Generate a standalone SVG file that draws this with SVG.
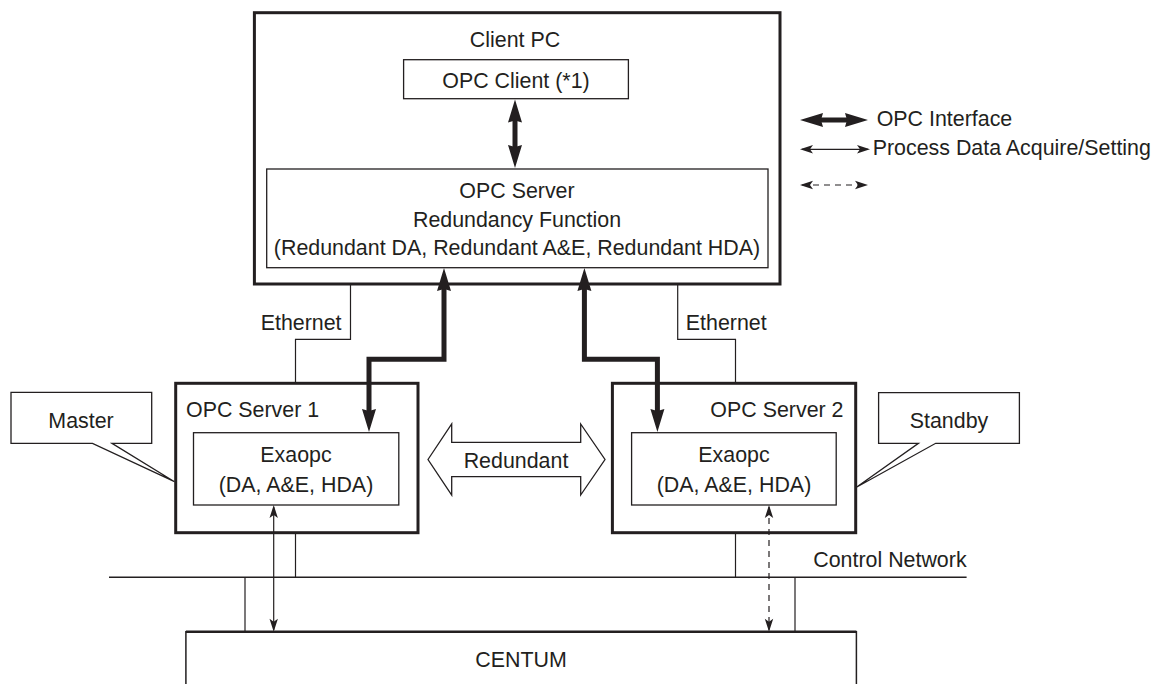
<svg xmlns="http://www.w3.org/2000/svg" width="1158" height="684" viewBox="0 0 1158 684">
<style>
text{font-family:"Liberation Sans",Arial,sans-serif;font-size:21.4px;fill:#231f20}
.m{text-anchor:middle}
.e{text-anchor:end}
.outer{fill:#fff;stroke:#231f20;stroke-width:3}
.inner{fill:#fff;stroke:#231f20;stroke-width:1.3}
.thin{fill:none;stroke:#231f20;stroke-width:1.2}
.thick{fill:none;stroke:#231f20;stroke-width:5;marker-start:url(#hk);marker-end:url(#hk)}
.arr{fill:none;stroke:#231f20;stroke-width:1.2;marker-start:url(#hs);marker-end:url(#hs)}
.dash{stroke-dasharray:6 5}
</style>
<defs>
<marker id="hk" markerUnits="userSpaceOnUse" viewBox="-14 -8 25 16" markerWidth="25" markerHeight="16" refX="0" refY="0" orient="auto-start-reverse">
<path d="M10,0 L-13,-7 L-11,0 L-13,7 Z" fill="#231f20"/>
</marker>
<marker id="hs" markerUnits="userSpaceOnUse" viewBox="-12 -5 15 10" markerWidth="15" markerHeight="10" refX="0" refY="0" orient="auto-start-reverse">
<path d="M2,0 L-11,-4.2 L-8,0 L-11,4.2 Z" fill="#231f20"/>
</marker>
</defs>

<g id="client-pc">
<rect class="outer" x="254.4" y="12.7" width="525.6" height="271.3"/>
<text class="m" x="515" y="46.7">Client PC</text>
</g>
<g id="opc-client">
<rect class="inner" x="403.6" y="59.7" width="224.8" height="39"/>
<text class="m" x="516" y="87.5">OPC Client (*1)</text>
</g>
<g id="opc-server-redundancy">
<rect class="inner" x="266.7" y="169" width="501.3" height="98.7"/>
<text class="m" x="517" y="198">OPC Server</text>
<text class="m" x="517" y="226.5">Redundancy Function</text>
<text class="m" x="517" y="254.5">(Redundant DA, Redundant A&amp;E, Redundant HDA)</text>
</g>

<g id="opc-server-1">
<rect class="outer" x="175.7" y="383.3" width="242.3" height="149.4"/>
<text x="186" y="416.7">OPC Server 1</text>
</g>
<g id="exaopc-1">
<rect class="inner" x="193.5" y="432.7" width="205.3" height="72.3"/>
<text class="m" x="296" y="461.7">Exaopc</text>
<text class="m" x="296" y="491.7">(DA, A&amp;E, HDA)</text>
</g>
<g id="opc-server-2">
<rect class="outer" x="612.4" y="383.3" width="243.3" height="149.4"/>
<text class="e" x="843.5" y="416.7">OPC Server 2</text>
</g>
<g id="exaopc-2">
<rect class="inner" x="631.6" y="432.7" width="204.6" height="72.3"/>
<text class="m" x="734" y="461.7">Exaopc</text>
<text class="m" x="734" y="491.7">(DA, A&amp;E, HDA)</text>
</g>

<g id="master">
<path class="inner" d="M11,392.3 H151.7 V443.3 H112 L174.5,481.7 L92.5,443.3 H11 Z"/>
<text class="m" x="81" y="428.3">Master</text>
</g>
<g id="standby">
<path class="inner" d="M878.6,392.7 H1019.4 V443.3 H935.7 L856.4,487.3 L918.4,443.3 H878.6 Z"/>
<text class="m" x="949" y="428.3">Standby</text>
</g>

<g id="redundant">
<path class="inner" d="M428,459.5 L451.7,424 V442.3 H580.7 V424 L605,459.5 L580.7,495 V476.7 H451.7 V495 Z"/>
<text class="m" x="516" y="468.3">Redundant</text>
</g>

<g id="centum">
<path d="M185.9,700 V631.7 H856.4 V700" fill="#fff" stroke="#231f20" stroke-width="1.5"/>
<line x1="185.9" y1="631.7" x2="856.4" y2="631.7" stroke="#231f20" stroke-width="2.5"/>
<text class="m" x="521" y="666.7">CENTUM</text>
</g>

<g id="connectors">
<path class="thin" d="M350.5,284 V339.3 H295.5 V383.3"/>
<path class="thin" d="M677.7,284 V339.3 H735.5 V383.3"/>
<path class="thin" d="M295.5,532.7 V577.3"/>
<path class="thin" d="M735.5,532.7 V577.3"/>
<path class="thin" d="M245,577.3 V631.7"/>
<path class="thin" d="M795,577.3 V631.7"/>
<path d="M109,577.3 H966.6" fill="none" stroke="#231f20" stroke-width="1.5"/>
<path class="thick" d="M515,109.5 V158"/>
<path class="thick" d="M444,278 V359.3 H369 V422"/>
<path class="thick" d="M584.4,278 V359.3 H657.4 V422"/>
<path class="arr" d="M273.7,507 V629.7"/>
<path class="arr dash" d="M769,507 V629.7"/>
</g>
<g id="labels">
<text x="260.7" y="330">Ethernet</text>
<text x="685.8" y="330">Ethernet</text>
<text class="e" x="966.6" y="566.7">Control Network</text>
</g>

<g id="legend">
<path class="thick" d="M810,120 H858"/>
<text x="876.7" y="126">OPC Interface</text>
<path class="arr" d="M802,149.3 H868"/>
<text x="872.7" y="155">Process Data Acquire/Setting</text>
<path class="arr dash" d="M802,185 H866"/>
</g>
</svg>
